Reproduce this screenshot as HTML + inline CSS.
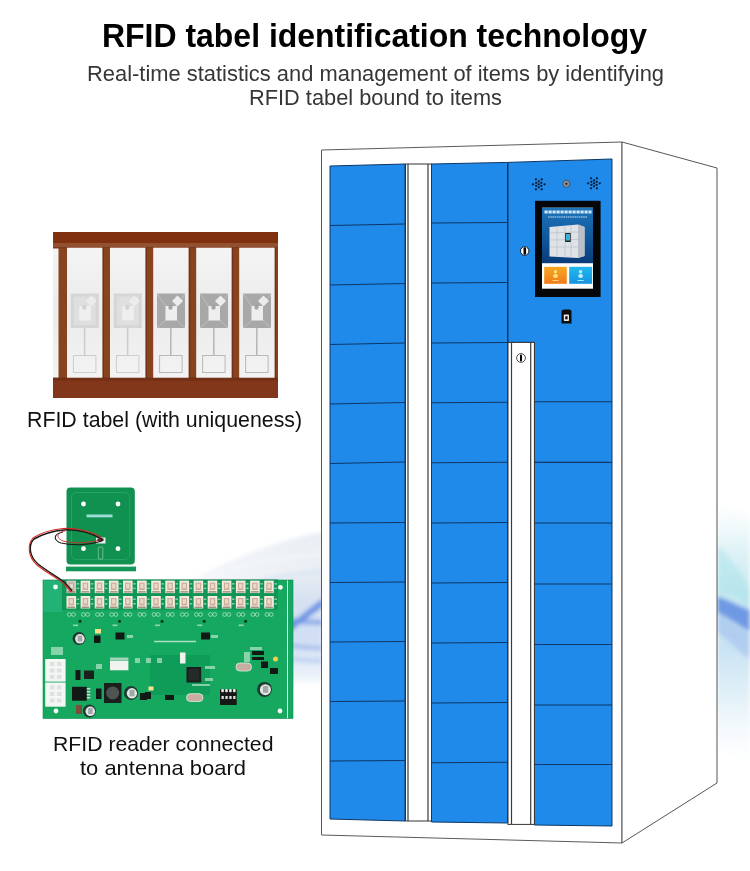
<!DOCTYPE html>
<html><head><meta charset="utf-8">
<style>
html,body{margin:0;padding:0;background:#fff;}
body{width:750px;height:871px;position:relative;overflow:hidden;font-family:"Liberation Sans",sans-serif;}
.t{position:absolute;white-space:nowrap;line-height:1;}
#title{left:101.7px;top:19px;font-size:33px;font-weight:bold;color:#000;transform:scaleX(0.9684);transform-origin:0 0;}
#sub1{left:87px;top:62.5px;font-size:22px;color:#363636;transform:scaleX(0.9955);transform-origin:0 0;}
#sub2{left:248.5px;top:86.5px;font-size:22px;color:#363636;transform:scaleX(0.9899);transform-origin:0 0;}
#cap1{left:26.5px;top:409.5px;font-size:21.5px;color:#111;transform:scaleX(0.9923);transform-origin:0 0;}
#cap2{left:52.8px;top:733px;font-size:21px;color:#111;transform:scaleX(1.01);transform-origin:0 0;}
#cap3{left:79.8px;top:756.5px;font-size:21px;color:#111;transform:scaleX(1.0455);transform-origin:0 0;}
svg{position:absolute;left:0;top:0;}
</style></head>
<body>
<svg width="750" height="871" viewBox="0 0 750 871">
<defs>
  <filter id="blur2" x="-20%" y="-20%" width="140%" height="140%"><feGaussianBlur stdDeviation="2.2"/></filter>
  <radialGradient id="waveR" cx="1" cy="0.5" r="1">
    <stop offset="0" stop-color="#6aa8ec" stop-opacity="0.55"/>
    <stop offset="1" stop-color="#ffffff" stop-opacity="0"/>
  </radialGradient>

  <linearGradient id="scr" x1="0" y1="0" x2="0" y2="1">
    <stop offset="0" stop-color="#1d74bb"/><stop offset="0.5" stop-color="#115a9e"/><stop offset="1" stop-color="#0a3b7a"/>
  </linearGradient>
  <linearGradient id="org" x1="0" y1="0" x2="0" y2="1">
    <stop offset="0" stop-color="#f7a823"/><stop offset="1" stop-color="#f07a1a"/>
  </linearGradient>
  <linearGradient id="cyn" x1="0" y1="0" x2="0" y2="1">
    <stop offset="0" stop-color="#22b8f0"/><stop offset="1" stop-color="#1594e0"/>
  </linearGradient>
  <linearGradient id="lab" x1="0" y1="0" x2="0" y2="1">
    <stop offset="0" stop-color="#f4f4f4"/><stop offset="0.5" stop-color="#ebebeb"/><stop offset="1" stop-color="#f3f3f3"/>
  </linearGradient>
  <linearGradient id="wl" x1="0" y1="0" x2="1" y2="0">
    <stop offset="0" stop-color="#ffffff"/><stop offset="0.5" stop-color="#e9eef5"/><stop offset="1" stop-color="#dfe6ef"/>
  </linearGradient>
  <linearGradient id="wl2" x1="0" y1="0" x2="0" y2="1">
    <stop offset="0" stop-color="#e6ecf3"/><stop offset="0.25" stop-color="#d5e1f2"/><stop offset="0.6" stop-color="#d1def4"/><stop offset="0.9" stop-color="#e8eff9"/><stop offset="1" stop-color="#f7f9fc"/>
  </linearGradient>
  <linearGradient id="wr" x1="0" y1="0" x2="0" y2="1">
    <stop offset="0" stop-color="#f4fafc" stop-opacity="0"/><stop offset="0.15" stop-color="#e6f5f8"/><stop offset="0.35" stop-color="#c6e9f0"/><stop offset="0.55" stop-color="#c9e2f3"/><stop offset="0.75" stop-color="#e3f1f8"/><stop offset="1" stop-color="#f4f8fc" stop-opacity="0"/>
  </linearGradient>
</defs>
<g id="bgwave" filter="url(#blur2)">
<path d="M120,630 C180,580 250,545 330,530 L330,600 C260,595 200,610 150,640 Z" fill="url(#wl)" opacity="0.65"/>
<path d="M185,588 C230,566 280,556 330,554" fill="none" stroke="#f4f7fb" stroke-width="3" opacity="0.8"/>
<path d="M205,600 C245,582 290,573 330,571" fill="none" stroke="#c9d8ee" stroke-width="4" opacity="0.55"/>
<rect x="290" y="575" width="33" height="108" fill="url(#wl2)"/>
<path d="M290,624 C300,616 312,606 323,598 L323,607 C312,614 300,624 290,632 Z" fill="#5d86df" opacity="0.85"/>
<path d="M290,618 C303,619 313,620 323,620 L323,625 C313,625 303,624 290,623 Z" fill="#6a92e2" opacity="0.7"/>
<path d="M290,644 C303,645 313,646 323,646 L323,650 C313,650 303,649 290,648 Z" fill="#7fa2e6" opacity="0.6"/>
<path d="M290,657 C303,658 313,659 323,659 L323,663 C313,663 303,662 290,661 Z" fill="#9fbbee" opacity="0.55"/>
</g>
<g id="rwave" filter="url(#blur2)">
<path d="M717,500 C730,505 742,510 750,515 L750,765 C740,760 728,755 717,750 Z" fill="url(#wr)"/>
<path d="M717,596 C728,600 740,606 750,610 L750,632 C740,626 728,618 717,612 Z" fill="#5a86e0" opacity="0.8"/>
<path d="M717,612 C728,620 740,628 750,634 L750,660 C740,652 728,640 717,632 Z" fill="#9dbbee" opacity="0.55"/>
<path d="M717,545 C730,555 742,575 750,590 L750,608 C740,598 730,590 717,594 Z" fill="#a5dfe8" opacity="0.45"/>
</g>
<g id="antenna"><rect x="66.5" y="487.6" width="68.3" height="77" rx="4" fill="#10914f"/><rect x="71.5" y="492.5" width="58.3" height="67" rx="5" fill="none" stroke="#2aa866" stroke-width="1" opacity="0.8"/><rect x="66" y="566.5" width="70" height="4.8" fill="#14985a"/><line x1="66" y1="565.6" x2="135" y2="565.6" stroke="#f2f7f3" stroke-width="1.2"/><circle cx="83.5" cy="504" r="2.4" fill="#fff"/><circle cx="118" cy="504" r="2.4" fill="#fff"/><circle cx="83.5" cy="548.7" r="2.4" fill="#fff"/><circle cx="118" cy="548.7" r="2.4" fill="#fff"/><rect x="86.5" y="514.5" width="26" height="2.8" fill="#aee6e8" opacity="0.9"/><rect x="96" y="537.5" width="9.5" height="6" fill="#e9ecef"/><rect x="97.5" y="538.5" width="6" height="2.5" fill="#222"/><rect x="98.3" y="547" width="4.5" height="12" rx="1" fill="none" stroke="#9fd8b6" stroke-width="0.8" opacity="0.8"/></g>
<g id="pcb"><rect x="43" y="580" width="244" height="138.5" fill="#15a85e"/><path d="M55,620 L287,620 L287,650 L230,650 L220,660 L55,660 Z" fill="#16a762" opacity="0.55"/><rect x="150" y="655" width="60" height="40" fill="#0c9456" opacity="0.6"/><rect x="43" y="580" width="19" height="32" fill="#2db98a" opacity="0.55"/><rect x="288" y="580" width="5" height="138.5" fill="#16a862"/><line x1="287.5" y1="580" x2="287.5" y2="718.5" stroke="#d9efe2" stroke-width="0.7"/><rect x="43" y="580" width="250" height="138.5" fill="none" stroke="#0b8a4e" stroke-width="0.6"/><circle cx="55.5" cy="587" r="2.4" fill="#f4f7f4"/><circle cx="280.4" cy="587.3" r="2.4" fill="#f4f7f4"/><circle cx="56" cy="711" r="2.4" fill="#f4f7f4"/><circle cx="280" cy="711" r="2.4" fill="#f4f7f4"/><rect x="62" y="579" width="216" height="31" fill="#0a7e4b" opacity="0.45"/><rect x="66.5" y="580.6" width="9.6" height="12.5" fill="#cfcac6"/><rect x="68.5" y="582.6" width="5.6" height="7.5" fill="#c6a487" opacity="0.85"/><rect x="69.7" y="583.8000000000001" width="3.2" height="4.5" fill="#ead9c8"/><rect x="67.5" y="591.1" width="7.6" height="1.5" fill="#6f5a4a" opacity="0.6"/><rect x="76.7" y="583.1" width="2.5" height="1.5" fill="#b8e6cc" opacity="0.7"/><rect x="76.7" y="587.6" width="2.5" height="1.5" fill="#b8e6cc" opacity="0.7"/><rect x="80.6" y="580.6" width="9.6" height="12.5" fill="#f3ebe3"/><rect x="82.6" y="582.6" width="5.6" height="7.5" fill="#c6a487" opacity="0.85"/><rect x="83.8" y="583.8000000000001" width="3.2" height="4.5" fill="#ead9c8"/><rect x="81.6" y="591.1" width="7.6" height="1.5" fill="#6f5a4a" opacity="0.6"/><rect x="90.8" y="583.1" width="2.5" height="1.5" fill="#b8e6cc" opacity="0.7"/><rect x="90.8" y="587.6" width="2.5" height="1.5" fill="#b8e6cc" opacity="0.7"/><rect x="94.7" y="580.6" width="9.6" height="12.5" fill="#f3ebe3"/><rect x="96.7" y="582.6" width="5.6" height="7.5" fill="#c6a487" opacity="0.85"/><rect x="97.9" y="583.8000000000001" width="3.2" height="4.5" fill="#ead9c8"/><rect x="95.7" y="591.1" width="7.6" height="1.5" fill="#6f5a4a" opacity="0.6"/><rect x="104.9" y="583.1" width="2.5" height="1.5" fill="#b8e6cc" opacity="0.7"/><rect x="104.9" y="587.6" width="2.5" height="1.5" fill="#b8e6cc" opacity="0.7"/><rect x="108.9" y="580.6" width="9.6" height="12.5" fill="#f3ebe3"/><rect x="110.9" y="582.6" width="5.6" height="7.5" fill="#c6a487" opacity="0.85"/><rect x="112.1" y="583.8000000000001" width="3.2" height="4.5" fill="#ead9c8"/><rect x="109.9" y="591.1" width="7.6" height="1.5" fill="#6f5a4a" opacity="0.6"/><rect x="119.1" y="583.1" width="2.5" height="1.5" fill="#b8e6cc" opacity="0.7"/><rect x="119.1" y="587.6" width="2.5" height="1.5" fill="#b8e6cc" opacity="0.7"/><rect x="123.0" y="580.6" width="9.6" height="12.5" fill="#f3ebe3"/><rect x="125.0" y="582.6" width="5.6" height="7.5" fill="#c6a487" opacity="0.85"/><rect x="126.2" y="583.8000000000001" width="3.2" height="4.5" fill="#ead9c8"/><rect x="124.0" y="591.1" width="7.6" height="1.5" fill="#6f5a4a" opacity="0.6"/><rect x="133.2" y="583.1" width="2.5" height="1.5" fill="#b8e6cc" opacity="0.7"/><rect x="133.2" y="587.6" width="2.5" height="1.5" fill="#b8e6cc" opacity="0.7"/><rect x="137.1" y="580.6" width="9.6" height="12.5" fill="#f3ebe3"/><rect x="139.1" y="582.6" width="5.6" height="7.5" fill="#c6a487" opacity="0.85"/><rect x="140.3" y="583.8000000000001" width="3.2" height="4.5" fill="#ead9c8"/><rect x="138.1" y="591.1" width="7.6" height="1.5" fill="#6f5a4a" opacity="0.6"/><rect x="147.3" y="583.1" width="2.5" height="1.5" fill="#b8e6cc" opacity="0.7"/><rect x="147.3" y="587.6" width="2.5" height="1.5" fill="#b8e6cc" opacity="0.7"/><rect x="151.2" y="580.6" width="9.6" height="12.5" fill="#f3ebe3"/><rect x="153.2" y="582.6" width="5.6" height="7.5" fill="#c6a487" opacity="0.85"/><rect x="154.4" y="583.8000000000001" width="3.2" height="4.5" fill="#ead9c8"/><rect x="152.2" y="591.1" width="7.6" height="1.5" fill="#6f5a4a" opacity="0.6"/><rect x="161.4" y="583.1" width="2.5" height="1.5" fill="#b8e6cc" opacity="0.7"/><rect x="161.4" y="587.6" width="2.5" height="1.5" fill="#b8e6cc" opacity="0.7"/><rect x="165.3" y="580.6" width="9.6" height="12.5" fill="#f3ebe3"/><rect x="167.3" y="582.6" width="5.6" height="7.5" fill="#c6a487" opacity="0.85"/><rect x="168.5" y="583.8000000000001" width="3.2" height="4.5" fill="#ead9c8"/><rect x="166.3" y="591.1" width="7.6" height="1.5" fill="#6f5a4a" opacity="0.6"/><rect x="175.5" y="583.1" width="2.5" height="1.5" fill="#b8e6cc" opacity="0.7"/><rect x="175.5" y="587.6" width="2.5" height="1.5" fill="#b8e6cc" opacity="0.7"/><rect x="179.5" y="580.6" width="9.6" height="12.5" fill="#f3ebe3"/><rect x="181.5" y="582.6" width="5.6" height="7.5" fill="#c6a487" opacity="0.85"/><rect x="182.7" y="583.8000000000001" width="3.2" height="4.5" fill="#ead9c8"/><rect x="180.5" y="591.1" width="7.6" height="1.5" fill="#6f5a4a" opacity="0.6"/><rect x="189.7" y="583.1" width="2.5" height="1.5" fill="#b8e6cc" opacity="0.7"/><rect x="189.7" y="587.6" width="2.5" height="1.5" fill="#b8e6cc" opacity="0.7"/><rect x="193.6" y="580.6" width="9.6" height="12.5" fill="#f3ebe3"/><rect x="195.6" y="582.6" width="5.6" height="7.5" fill="#c6a487" opacity="0.85"/><rect x="196.8" y="583.8000000000001" width="3.2" height="4.5" fill="#ead9c8"/><rect x="194.6" y="591.1" width="7.6" height="1.5" fill="#6f5a4a" opacity="0.6"/><rect x="203.8" y="583.1" width="2.5" height="1.5" fill="#b8e6cc" opacity="0.7"/><rect x="203.8" y="587.6" width="2.5" height="1.5" fill="#b8e6cc" opacity="0.7"/><rect x="207.7" y="580.6" width="9.6" height="12.5" fill="#f3ebe3"/><rect x="209.7" y="582.6" width="5.6" height="7.5" fill="#c6a487" opacity="0.85"/><rect x="210.9" y="583.8000000000001" width="3.2" height="4.5" fill="#ead9c8"/><rect x="208.7" y="591.1" width="7.6" height="1.5" fill="#6f5a4a" opacity="0.6"/><rect x="217.9" y="583.1" width="2.5" height="1.5" fill="#b8e6cc" opacity="0.7"/><rect x="217.9" y="587.6" width="2.5" height="1.5" fill="#b8e6cc" opacity="0.7"/><rect x="221.8" y="580.6" width="9.6" height="12.5" fill="#f3ebe3"/><rect x="223.8" y="582.6" width="5.6" height="7.5" fill="#c6a487" opacity="0.85"/><rect x="225.0" y="583.8000000000001" width="3.2" height="4.5" fill="#ead9c8"/><rect x="222.8" y="591.1" width="7.6" height="1.5" fill="#6f5a4a" opacity="0.6"/><rect x="232.0" y="583.1" width="2.5" height="1.5" fill="#b8e6cc" opacity="0.7"/><rect x="232.0" y="587.6" width="2.5" height="1.5" fill="#b8e6cc" opacity="0.7"/><rect x="235.9" y="580.6" width="9.6" height="12.5" fill="#f3ebe3"/><rect x="237.9" y="582.6" width="5.6" height="7.5" fill="#c6a487" opacity="0.85"/><rect x="239.1" y="583.8000000000001" width="3.2" height="4.5" fill="#ead9c8"/><rect x="236.9" y="591.1" width="7.6" height="1.5" fill="#6f5a4a" opacity="0.6"/><rect x="246.1" y="583.1" width="2.5" height="1.5" fill="#b8e6cc" opacity="0.7"/><rect x="246.1" y="587.6" width="2.5" height="1.5" fill="#b8e6cc" opacity="0.7"/><rect x="250.1" y="580.6" width="9.6" height="12.5" fill="#f3ebe3"/><rect x="252.1" y="582.6" width="5.6" height="7.5" fill="#c6a487" opacity="0.85"/><rect x="253.3" y="583.8000000000001" width="3.2" height="4.5" fill="#ead9c8"/><rect x="251.1" y="591.1" width="7.6" height="1.5" fill="#6f5a4a" opacity="0.6"/><rect x="260.3" y="583.1" width="2.5" height="1.5" fill="#b8e6cc" opacity="0.7"/><rect x="260.3" y="587.6" width="2.5" height="1.5" fill="#b8e6cc" opacity="0.7"/><rect x="264.2" y="580.6" width="9.6" height="12.5" fill="#f3ebe3"/><rect x="266.2" y="582.6" width="5.6" height="7.5" fill="#c6a487" opacity="0.85"/><rect x="267.4" y="583.8000000000001" width="3.2" height="4.5" fill="#ead9c8"/><rect x="265.2" y="591.1" width="7.6" height="1.5" fill="#6f5a4a" opacity="0.6"/><rect x="274.4" y="583.1" width="2.5" height="1.5" fill="#b8e6cc" opacity="0.7"/><rect x="274.4" y="587.6" width="2.5" height="1.5" fill="#b8e6cc" opacity="0.7"/><rect x="66.5" y="596" width="9.6" height="12.5" fill="#f3ebe3"/><rect x="68.5" y="598" width="5.6" height="7.5" fill="#c6a487" opacity="0.85"/><rect x="69.7" y="599.2" width="3.2" height="4.5" fill="#ead9c8"/><rect x="67.5" y="606.5" width="7.6" height="1.5" fill="#6f5a4a" opacity="0.6"/><rect x="76.7" y="598.5" width="2.5" height="1.5" fill="#b8e6cc" opacity="0.7"/><rect x="76.7" y="603" width="2.5" height="1.5" fill="#b8e6cc" opacity="0.7"/><rect x="80.6" y="596" width="9.6" height="12.5" fill="#f3ebe3"/><rect x="82.6" y="598" width="5.6" height="7.5" fill="#c6a487" opacity="0.85"/><rect x="83.8" y="599.2" width="3.2" height="4.5" fill="#ead9c8"/><rect x="81.6" y="606.5" width="7.6" height="1.5" fill="#6f5a4a" opacity="0.6"/><rect x="90.8" y="598.5" width="2.5" height="1.5" fill="#b8e6cc" opacity="0.7"/><rect x="90.8" y="603" width="2.5" height="1.5" fill="#b8e6cc" opacity="0.7"/><rect x="94.7" y="596" width="9.6" height="12.5" fill="#f3ebe3"/><rect x="96.7" y="598" width="5.6" height="7.5" fill="#c6a487" opacity="0.85"/><rect x="97.9" y="599.2" width="3.2" height="4.5" fill="#ead9c8"/><rect x="95.7" y="606.5" width="7.6" height="1.5" fill="#6f5a4a" opacity="0.6"/><rect x="104.9" y="598.5" width="2.5" height="1.5" fill="#b8e6cc" opacity="0.7"/><rect x="104.9" y="603" width="2.5" height="1.5" fill="#b8e6cc" opacity="0.7"/><rect x="108.9" y="596" width="9.6" height="12.5" fill="#f3ebe3"/><rect x="110.9" y="598" width="5.6" height="7.5" fill="#c6a487" opacity="0.85"/><rect x="112.1" y="599.2" width="3.2" height="4.5" fill="#ead9c8"/><rect x="109.9" y="606.5" width="7.6" height="1.5" fill="#6f5a4a" opacity="0.6"/><rect x="119.1" y="598.5" width="2.5" height="1.5" fill="#b8e6cc" opacity="0.7"/><rect x="119.1" y="603" width="2.5" height="1.5" fill="#b8e6cc" opacity="0.7"/><rect x="123.0" y="596" width="9.6" height="12.5" fill="#f3ebe3"/><rect x="125.0" y="598" width="5.6" height="7.5" fill="#c6a487" opacity="0.85"/><rect x="126.2" y="599.2" width="3.2" height="4.5" fill="#ead9c8"/><rect x="124.0" y="606.5" width="7.6" height="1.5" fill="#6f5a4a" opacity="0.6"/><rect x="133.2" y="598.5" width="2.5" height="1.5" fill="#b8e6cc" opacity="0.7"/><rect x="133.2" y="603" width="2.5" height="1.5" fill="#b8e6cc" opacity="0.7"/><rect x="137.1" y="596" width="9.6" height="12.5" fill="#f3ebe3"/><rect x="139.1" y="598" width="5.6" height="7.5" fill="#c6a487" opacity="0.85"/><rect x="140.3" y="599.2" width="3.2" height="4.5" fill="#ead9c8"/><rect x="138.1" y="606.5" width="7.6" height="1.5" fill="#6f5a4a" opacity="0.6"/><rect x="147.3" y="598.5" width="2.5" height="1.5" fill="#b8e6cc" opacity="0.7"/><rect x="147.3" y="603" width="2.5" height="1.5" fill="#b8e6cc" opacity="0.7"/><rect x="151.2" y="596" width="9.6" height="12.5" fill="#f3ebe3"/><rect x="153.2" y="598" width="5.6" height="7.5" fill="#c6a487" opacity="0.85"/><rect x="154.4" y="599.2" width="3.2" height="4.5" fill="#ead9c8"/><rect x="152.2" y="606.5" width="7.6" height="1.5" fill="#6f5a4a" opacity="0.6"/><rect x="161.4" y="598.5" width="2.5" height="1.5" fill="#b8e6cc" opacity="0.7"/><rect x="161.4" y="603" width="2.5" height="1.5" fill="#b8e6cc" opacity="0.7"/><rect x="165.3" y="596" width="9.6" height="12.5" fill="#f3ebe3"/><rect x="167.3" y="598" width="5.6" height="7.5" fill="#c6a487" opacity="0.85"/><rect x="168.5" y="599.2" width="3.2" height="4.5" fill="#ead9c8"/><rect x="166.3" y="606.5" width="7.6" height="1.5" fill="#6f5a4a" opacity="0.6"/><rect x="175.5" y="598.5" width="2.5" height="1.5" fill="#b8e6cc" opacity="0.7"/><rect x="175.5" y="603" width="2.5" height="1.5" fill="#b8e6cc" opacity="0.7"/><rect x="179.5" y="596" width="9.6" height="12.5" fill="#f3ebe3"/><rect x="181.5" y="598" width="5.6" height="7.5" fill="#c6a487" opacity="0.85"/><rect x="182.7" y="599.2" width="3.2" height="4.5" fill="#ead9c8"/><rect x="180.5" y="606.5" width="7.6" height="1.5" fill="#6f5a4a" opacity="0.6"/><rect x="189.7" y="598.5" width="2.5" height="1.5" fill="#b8e6cc" opacity="0.7"/><rect x="189.7" y="603" width="2.5" height="1.5" fill="#b8e6cc" opacity="0.7"/><rect x="193.6" y="596" width="9.6" height="12.5" fill="#f3ebe3"/><rect x="195.6" y="598" width="5.6" height="7.5" fill="#c6a487" opacity="0.85"/><rect x="196.8" y="599.2" width="3.2" height="4.5" fill="#ead9c8"/><rect x="194.6" y="606.5" width="7.6" height="1.5" fill="#6f5a4a" opacity="0.6"/><rect x="203.8" y="598.5" width="2.5" height="1.5" fill="#b8e6cc" opacity="0.7"/><rect x="203.8" y="603" width="2.5" height="1.5" fill="#b8e6cc" opacity="0.7"/><rect x="207.7" y="596" width="9.6" height="12.5" fill="#f3ebe3"/><rect x="209.7" y="598" width="5.6" height="7.5" fill="#c6a487" opacity="0.85"/><rect x="210.9" y="599.2" width="3.2" height="4.5" fill="#ead9c8"/><rect x="208.7" y="606.5" width="7.6" height="1.5" fill="#6f5a4a" opacity="0.6"/><rect x="217.9" y="598.5" width="2.5" height="1.5" fill="#b8e6cc" opacity="0.7"/><rect x="217.9" y="603" width="2.5" height="1.5" fill="#b8e6cc" opacity="0.7"/><rect x="221.8" y="596" width="9.6" height="12.5" fill="#f3ebe3"/><rect x="223.8" y="598" width="5.6" height="7.5" fill="#c6a487" opacity="0.85"/><rect x="225.0" y="599.2" width="3.2" height="4.5" fill="#ead9c8"/><rect x="222.8" y="606.5" width="7.6" height="1.5" fill="#6f5a4a" opacity="0.6"/><rect x="232.0" y="598.5" width="2.5" height="1.5" fill="#b8e6cc" opacity="0.7"/><rect x="232.0" y="603" width="2.5" height="1.5" fill="#b8e6cc" opacity="0.7"/><rect x="235.9" y="596" width="9.6" height="12.5" fill="#f3ebe3"/><rect x="237.9" y="598" width="5.6" height="7.5" fill="#c6a487" opacity="0.85"/><rect x="239.1" y="599.2" width="3.2" height="4.5" fill="#ead9c8"/><rect x="236.9" y="606.5" width="7.6" height="1.5" fill="#6f5a4a" opacity="0.6"/><rect x="246.1" y="598.5" width="2.5" height="1.5" fill="#b8e6cc" opacity="0.7"/><rect x="246.1" y="603" width="2.5" height="1.5" fill="#b8e6cc" opacity="0.7"/><rect x="250.1" y="596" width="9.6" height="12.5" fill="#f3ebe3"/><rect x="252.1" y="598" width="5.6" height="7.5" fill="#c6a487" opacity="0.85"/><rect x="253.3" y="599.2" width="3.2" height="4.5" fill="#ead9c8"/><rect x="251.1" y="606.5" width="7.6" height="1.5" fill="#6f5a4a" opacity="0.6"/><rect x="260.3" y="598.5" width="2.5" height="1.5" fill="#b8e6cc" opacity="0.7"/><rect x="260.3" y="603" width="2.5" height="1.5" fill="#b8e6cc" opacity="0.7"/><rect x="264.2" y="596" width="9.6" height="12.5" fill="#f3ebe3"/><rect x="266.2" y="598" width="5.6" height="7.5" fill="#c6a487" opacity="0.85"/><rect x="267.4" y="599.2" width="3.2" height="4.5" fill="#ead9c8"/><rect x="265.2" y="606.5" width="7.6" height="1.5" fill="#6f5a4a" opacity="0.6"/><rect x="274.4" y="598.5" width="2.5" height="1.5" fill="#b8e6cc" opacity="0.7"/><rect x="274.4" y="603" width="2.5" height="1.5" fill="#b8e6cc" opacity="0.7"/><circle cx="69.3" cy="614.5" r="1.9" fill="none" stroke="#c4ead4" stroke-width="0.7"/><circle cx="73.5" cy="614.5" r="1.9" fill="none" stroke="#c4ead4" stroke-width="0.7"/><circle cx="83.4" cy="614.5" r="1.9" fill="none" stroke="#c4ead4" stroke-width="0.7"/><circle cx="87.6" cy="614.5" r="1.9" fill="none" stroke="#c4ead4" stroke-width="0.7"/><circle cx="97.5" cy="614.5" r="1.9" fill="none" stroke="#c4ead4" stroke-width="0.7"/><circle cx="101.7" cy="614.5" r="1.9" fill="none" stroke="#c4ead4" stroke-width="0.7"/><circle cx="111.7" cy="614.5" r="1.9" fill="none" stroke="#c4ead4" stroke-width="0.7"/><circle cx="115.9" cy="614.5" r="1.9" fill="none" stroke="#c4ead4" stroke-width="0.7"/><circle cx="125.8" cy="614.5" r="1.9" fill="none" stroke="#c4ead4" stroke-width="0.7"/><circle cx="130.0" cy="614.5" r="1.9" fill="none" stroke="#c4ead4" stroke-width="0.7"/><circle cx="139.9" cy="614.5" r="1.9" fill="none" stroke="#c4ead4" stroke-width="0.7"/><circle cx="144.1" cy="614.5" r="1.9" fill="none" stroke="#c4ead4" stroke-width="0.7"/><circle cx="154.0" cy="614.5" r="1.9" fill="none" stroke="#c4ead4" stroke-width="0.7"/><circle cx="158.2" cy="614.5" r="1.9" fill="none" stroke="#c4ead4" stroke-width="0.7"/><circle cx="168.1" cy="614.5" r="1.9" fill="none" stroke="#c4ead4" stroke-width="0.7"/><circle cx="172.3" cy="614.5" r="1.9" fill="none" stroke="#c4ead4" stroke-width="0.7"/><circle cx="182.3" cy="614.5" r="1.9" fill="none" stroke="#c4ead4" stroke-width="0.7"/><circle cx="186.5" cy="614.5" r="1.9" fill="none" stroke="#c4ead4" stroke-width="0.7"/><circle cx="196.4" cy="614.5" r="1.9" fill="none" stroke="#c4ead4" stroke-width="0.7"/><circle cx="200.6" cy="614.5" r="1.9" fill="none" stroke="#c4ead4" stroke-width="0.7"/><circle cx="210.5" cy="614.5" r="1.9" fill="none" stroke="#c4ead4" stroke-width="0.7"/><circle cx="214.7" cy="614.5" r="1.9" fill="none" stroke="#c4ead4" stroke-width="0.7"/><circle cx="224.6" cy="614.5" r="1.9" fill="none" stroke="#c4ead4" stroke-width="0.7"/><circle cx="228.8" cy="614.5" r="1.9" fill="none" stroke="#c4ead4" stroke-width="0.7"/><circle cx="238.7" cy="614.5" r="1.9" fill="none" stroke="#c4ead4" stroke-width="0.7"/><circle cx="242.9" cy="614.5" r="1.9" fill="none" stroke="#c4ead4" stroke-width="0.7"/><circle cx="252.9" cy="614.5" r="1.9" fill="none" stroke="#c4ead4" stroke-width="0.7"/><circle cx="257.1" cy="614.5" r="1.9" fill="none" stroke="#c4ead4" stroke-width="0.7"/><circle cx="267.0" cy="614.5" r="1.9" fill="none" stroke="#c4ead4" stroke-width="0.7"/><circle cx="271.2" cy="614.5" r="1.9" fill="none" stroke="#c4ead4" stroke-width="0.7"/><circle cx="80" cy="621.2" r="1.5" fill="#07331b"/><rect x="73" y="624.5" width="5" height="1.6" fill="#c4ead4" opacity="0.7"/><circle cx="119.5" cy="621.2" r="1.5" fill="#07331b"/><rect x="112.5" y="624.5" width="5" height="1.6" fill="#c4ead4" opacity="0.7"/><circle cx="162" cy="621.2" r="1.5" fill="#07331b"/><rect x="155" y="624.5" width="5" height="1.6" fill="#c4ead4" opacity="0.7"/><circle cx="204.2" cy="621.2" r="1.5" fill="#07331b"/><rect x="197.2" y="624.5" width="5" height="1.6" fill="#c4ead4" opacity="0.7"/><circle cx="245.6" cy="621.2" r="1.5" fill="#07331b"/><rect x="238.6" y="624.5" width="5" height="1.6" fill="#c4ead4" opacity="0.7"/><circle cx="79" cy="638.5" r="6.5" fill="#1d3a30"/><circle cx="79.9" cy="638.8" r="4.81" fill="#dfe6e4"/><rect x="77.7" y="635.6" width="4.5" height="5.9" fill="#6a7570" opacity="0.55"/><circle cx="131" cy="693" r="7" fill="#1d3a30"/><circle cx="131.9" cy="693.3" r="5.18" fill="#dfe6e4"/><rect x="129.6" y="689.9" width="4.9" height="6.3" fill="#6a7570" opacity="0.55"/><circle cx="89.4" cy="711" r="6.5" fill="#1d3a30"/><circle cx="90.30000000000001" cy="711.3" r="4.81" fill="#dfe6e4"/><rect x="88.1" y="708.1" width="4.5" height="5.9" fill="#6a7570" opacity="0.55"/><circle cx="264.5" cy="689.4" r="7.5" fill="#1d3a30"/><circle cx="265.4" cy="689.6999999999999" r="5.55" fill="#dfe6e4"/><rect x="263.0" y="686.0" width="5.2" height="6.8" fill="#6a7570" opacity="0.55"/><rect x="115.5" y="632.5" width="9" height="7" fill="#121816"/><rect x="201" y="632.5" width="9" height="7" fill="#121816"/><rect x="261" y="661.5" width="7" height="6.5" fill="#121816"/><rect x="72" y="686.8" width="14.8" height="13.9" fill="#121816"/><rect x="75.5" y="670" width="5" height="10" fill="#121816"/><rect x="84" y="670.5" width="10" height="8.5" fill="#1a201d"/><rect x="96" y="688.5" width="5.5" height="10.5" fill="#121816"/><g fill="#cfd7d3"><rect x="86.8" y="688" width="3.5" height="1.5"/><rect x="86.8" y="691" width="3.5" height="1.5"/><rect x="86.8" y="694" width="3.5" height="1.5"/><rect x="86.8" y="697" width="3.5" height="1.5"/></g><rect x="104" y="683" width="17.5" height="20" fill="#1b1f1d"/><circle cx="112.7" cy="693" r="6.5" fill="#4d5452"/><rect x="186.5" y="667" width="14.7" height="15.5" fill="#1a1e1c"/><rect x="188.5" y="669" width="10.7" height="11.5" fill="#262b29"/><rect x="236" y="663" width="15.5" height="8" rx="3.8" fill="#c9ada0" stroke="#d9eee2" stroke-width="0.8"/><rect x="186.5" y="693.7" width="16.5" height="7.8" rx="3.8" fill="#c9ada0" stroke="#d9eee2" stroke-width="0.8"/><rect x="220" y="689.5" width="16.7" height="15.5" fill="#151816"/><rect x="221.3" y="689" width="2.6" height="3.2" rx="1" fill="#eee"/><rect x="221.5" y="696" width="2.3" height="3" fill="#ddd"/><rect x="225.2" y="689" width="2.6" height="3.2" rx="1" fill="#eee"/><rect x="225.4" y="696" width="2.3" height="3" fill="#ddd"/><rect x="229.1" y="689" width="2.6" height="3.2" rx="1" fill="#eee"/><rect x="229.3" y="696" width="2.3" height="3" fill="#ddd"/><rect x="233.0" y="689" width="2.6" height="3.2" rx="1" fill="#eee"/><rect x="233.2" y="696" width="2.3" height="3" fill="#ddd"/><rect x="45.2" y="659" width="20.4" height="22.6" fill="#f3f6f4"/><rect x="45.2" y="682.5" width="20.4" height="24.2" fill="#f3f6f4"/><rect x="50" y="662.0" width="4.5" height="4" fill="#dde2df"/><rect x="57" y="662.0" width="4.5" height="4" fill="#dde2df"/><rect x="50" y="668.5" width="4.5" height="4" fill="#dde2df"/><rect x="57" y="668.5" width="4.5" height="4" fill="#dde2df"/><rect x="50" y="675.0" width="4.5" height="4" fill="#dde2df"/><rect x="57" y="675.0" width="4.5" height="4" fill="#dde2df"/><rect x="50" y="685.5" width="4.5" height="4" fill="#dde2df"/><rect x="57" y="685.5" width="4.5" height="4" fill="#dde2df"/><rect x="50" y="692.0" width="4.5" height="4" fill="#dde2df"/><rect x="57" y="692.0" width="4.5" height="4" fill="#dde2df"/><rect x="50" y="698.5" width="4.5" height="4" fill="#dde2df"/><rect x="57" y="698.5" width="4.5" height="4" fill="#dde2df"/><rect x="110" y="660.8" width="18.4" height="9.5" fill="#f1f3f1"/><rect x="110" y="657.5" width="18.4" height="3" fill="#e0e6e2" opacity="0.7"/><rect x="180" y="652.5" width="5.5" height="11" fill="#f1f1ee"/><rect x="95" y="629" width="6" height="4.5" fill="#f4e08a"/><rect x="94" y="635.5" width="6.5" height="7.5" fill="#121816"/><circle cx="275.5" cy="659" r="2.5" fill="#f3cf4a"/><rect x="148.5" y="686.5" width="5" height="4" fill="#f6e38a"/><rect x="145" y="692" width="6" height="7" fill="#121816"/><path d="M154,641.5 L196,641.5" stroke="#c4ead4" stroke-width="1.3" opacity="0.85"/><g fill="#c4ead4" opacity="0.65"><rect x="127" y="635" width="6" height="3"/><rect x="211" y="635" width="7" height="3"/><rect x="135" y="658" width="5" height="5"/><rect x="146" y="658" width="5" height="5"/><rect x="157" y="658" width="5" height="5"/><rect x="96" y="664" width="6" height="5"/><rect x="250" y="647" width="12" height="3"/><rect x="244" y="652" width="6" height="10"/><rect x="205" y="666" width="10" height="3"/><rect x="205" y="678" width="8" height="3"/><rect x="192" y="684" width="18" height="2"/><rect x="51" y="647" width="12" height="8"/></g><rect x="252" y="651" width="12" height="4" fill="#121816"/><rect x="252" y="657" width="12" height="3" fill="#121816"/><rect x="140" y="693" width="7" height="7" fill="#121816"/><rect x="165" y="695" width="9" height="5" fill="#121816"/><rect x="76" y="705" width="6" height="9" fill="#7a4e3a"/><rect x="270" y="668" width="8" height="6" fill="#121816"/></g>
<g id="wires"><path d="M102,539 C92,533 77,529 64,530 C52,531 41,535 34,539 C28,545 29,556 38,564 C48,572 58,577 64,582 C67,585 70,588 72,591" fill="none" stroke="#1a1a1a" stroke-width="1.5"/>
<path d="M101,537.2 C91,531.5 76,527.5 63,528.5 C51,529.5 40,533.5 33,538 C27,545 28,557 37,565 C47,573 57,578 63,583 C66,586 69,589 71,592" fill="none" stroke="#d42a22" stroke-width="1.1"/>
<path d="M102,541 C90,545 73,546 61,543 C53,540 53,534 63,532" fill="none" stroke="#1a1a1a" stroke-width="1.1"/>
<path d="M101,539.6 C90,543 74,544 63,541 C56,538 56,533 65,531" fill="none" stroke="#d42a22" stroke-width="0.9"/></g>
<g id="photo"><rect x="53" y="232" width="225" height="166" fill="#88431f"/><rect x="53" y="232" width="225" height="11" fill="#7f300f"/><rect x="53" y="243" width="225" height="4.5" fill="#93502e"/><rect x="53" y="247" width="225" height="1.2" fill="#6a2a10" opacity="0.5"/><rect x="53" y="380" width="225" height="18" fill="#82361a"/><rect x="53" y="377.5" width="225" height="3" fill="#6a2a12" opacity="0.7"/><rect x="53" y="248.5" width="5.5" height="129" fill="url(#lab)"/><rect x="102.4" y="248" width="1.6" height="130" fill="#5e2410" opacity="0.55"/><rect x="67" y="247.7" width="35.4" height="130" fill="url(#lab)"/><rect x="70.8" y="293.5" width="28" height="34.5" fill="#d6d6d6"/><path d="M70.8,293.5 L79.3,306 M98.8,293.5 L90.8,306 M70.8,328 L79.3,320.5 M98.8,328 L90.8,320.5" stroke="#d2d2d2" stroke-width="0.7" opacity="0.8"/><rect x="73.8" y="296.5" width="22" height="28.5" fill="#e2e2e2" opacity="0.7"/><rect x="79.3" y="306" width="11.5" height="14.5" fill="#efefef"/><polygon points="91.3,295.5 96.8,301 91.3,306.5 85.8,301" fill="#ececec"/><circle cx="84.3" cy="307.5" r="2.2" fill="#8f8f8f" opacity="0.3"/><rect x="83.8" y="328" width="1.6" height="27.5" fill="#cdcdcd"/><rect x="73.4" y="355.5" width="22.5" height="17" fill="none" stroke="#cdcdcd" stroke-width="1"/><rect x="145.4" y="248" width="1.6" height="130" fill="#5e2410" opacity="0.55"/><rect x="110" y="247.7" width="35.4" height="130" fill="url(#lab)"/><rect x="113.8" y="293.5" width="28" height="34.5" fill="#d6d6d6"/><path d="M113.8,293.5 L122.3,306 M141.8,293.5 L133.8,306 M113.8,328 L122.3,320.5 M141.8,328 L133.8,320.5" stroke="#d2d2d2" stroke-width="0.7" opacity="0.8"/><rect x="116.8" y="296.5" width="22" height="28.5" fill="#e2e2e2" opacity="0.7"/><rect x="122.3" y="306" width="11.5" height="14.5" fill="#efefef"/><polygon points="134.3,295.5 139.8,301 134.3,306.5 128.8,301" fill="#ececec"/><circle cx="127.3" cy="307.5" r="2.2" fill="#8f8f8f" opacity="0.3"/><rect x="126.8" y="328" width="1.6" height="27.5" fill="#cdcdcd"/><rect x="116.4" y="355.5" width="22.5" height="17" fill="none" stroke="#cdcdcd" stroke-width="1"/><rect x="188.6" y="248" width="1.6" height="130" fill="#5e2410" opacity="0.55"/><rect x="153.2" y="247.7" width="35.4" height="130" fill="url(#lab)"/><rect x="157.0" y="293.5" width="28" height="34.5" fill="#a8a8a8"/><path d="M157.0,293.5 L165.5,306 M185.0,293.5 L177.0,306 M157.0,328 L165.5,320.5 M185.0,328 L177.0,320.5" stroke="#d2d2d2" stroke-width="0.7" opacity="0.8"/><rect x="165.5" y="306" width="11.5" height="14.5" fill="#eeeeee"/><polygon points="177.5,295.5 183.0,301 177.5,306.5 172.0,301" fill="#ececec"/><circle cx="170.5" cy="307.5" r="2.2" fill="#8f8f8f" opacity="0.75"/><rect x="170.0" y="328" width="1.6" height="27.5" fill="#b8b8b8"/><rect x="159.6" y="355.5" width="22.5" height="17" fill="none" stroke="#b8b8b8" stroke-width="1"/><rect x="231.6" y="248" width="1.6" height="130" fill="#5e2410" opacity="0.55"/><rect x="196.2" y="247.7" width="35.4" height="130" fill="url(#lab)"/><rect x="200.0" y="293.5" width="28" height="34.5" fill="#a8a8a8"/><path d="M200.0,293.5 L208.5,306 M228.0,293.5 L220.0,306 M200.0,328 L208.5,320.5 M228.0,328 L220.0,320.5" stroke="#d2d2d2" stroke-width="0.7" opacity="0.8"/><rect x="208.5" y="306" width="11.5" height="14.5" fill="#eeeeee"/><polygon points="220.5,295.5 226.0,301 220.5,306.5 215.0,301" fill="#ececec"/><circle cx="213.5" cy="307.5" r="2.2" fill="#8f8f8f" opacity="0.75"/><rect x="213.0" y="328" width="1.6" height="27.5" fill="#b8b8b8"/><rect x="202.6" y="355.5" width="22.5" height="17" fill="none" stroke="#b8b8b8" stroke-width="1"/><rect x="274.6" y="248" width="1.6" height="130" fill="#5e2410" opacity="0.55"/><rect x="239.2" y="247.7" width="35.4" height="130" fill="url(#lab)"/><rect x="243.0" y="293.5" width="28" height="34.5" fill="#a8a8a8"/><path d="M243.0,293.5 L251.5,306 M271.0,293.5 L263.0,306 M243.0,328 L251.5,320.5 M271.0,328 L263.0,320.5" stroke="#d2d2d2" stroke-width="0.7" opacity="0.8"/><rect x="251.5" y="306" width="11.5" height="14.5" fill="#eeeeee"/><polygon points="263.5,295.5 269.0,301 263.5,306.5 258.0,301" fill="#ececec"/><circle cx="256.5" cy="307.5" r="2.2" fill="#8f8f8f" opacity="0.75"/><rect x="256.0" y="328" width="1.6" height="27.5" fill="#b8b8b8"/><rect x="245.6" y="355.5" width="22.5" height="17" fill="none" stroke="#b8b8b8" stroke-width="1"/></g>
<!-- locker body -->
<polygon points="321.5,150 622,142 622,843 321.5,835" fill="#fff" stroke="#5a5a5a" stroke-width="1"/>
<polygon points="622,142 717,168 717,783 622,843" fill="#fff" stroke="#555" stroke-width="1"/>
<!-- column 1 -->
<polygon points="330,166 405,164 405,821 330,819" fill="#1f8aea" stroke="#0e3766" stroke-width="1"/>
<!-- column 2 -->
<polygon points="431.5,164 507.5,162.4 507.5,823 431.5,822" fill="#1f8aea" stroke="#0e3766" stroke-width="1"/>
<!-- panel + col3 -->
<polygon points="508,162.4 612,159 612,826 534.4,825 534.4,342.4 508,342.4" fill="#1f8aea" stroke="#0e3766" stroke-width="1"/>
<!-- strips -->
<g fill="#fff" stroke="#333" stroke-width="1">
<rect x="405.5" y="164" width="26" height="657"/>
<rect x="508" y="342.4" width="26.4" height="482"/>
</g>
<g stroke="#3a3a3a" stroke-width="1.2">
<line x1="408" y1="164" x2="408" y2="821"/>
<line x1="428" y1="164" x2="428" y2="821"/>
<line x1="511.5" y1="342.4" x2="511.5" y2="824"/>
<line x1="530.7" y1="342.4" x2="530.7" y2="824"/>
</g>
<g id="rows" stroke="#0e3766" stroke-width="1.1">
<line x1="330" y1="225.5" x2="405" y2="224.0"/>
<line x1="330" y1="285" x2="405" y2="283.5"/>
<line x1="330" y1="344.5" x2="405" y2="343.0"/>
<line x1="330" y1="404" x2="405" y2="402.5"/>
<line x1="330" y1="463.5" x2="405" y2="462.0"/>
<line x1="330" y1="523" x2="405" y2="522.5"/>
<line x1="330" y1="582.5" x2="405" y2="582.0"/>
<line x1="330" y1="642" x2="405" y2="641.5"/>
<line x1="330" y1="701.5" x2="405" y2="701.0"/>
<line x1="330" y1="761" x2="405" y2="760.5"/>
<line x1="431.5" y1="223" x2="507.5" y2="222.5"/>
<line x1="431.5" y1="283" x2="507.5" y2="282.5"/>
<line x1="431.5" y1="343" x2="507.5" y2="342.5"/>
<line x1="431.5" y1="402.7" x2="507.5" y2="402.2"/>
<line x1="431.5" y1="462.7" x2="507.5" y2="462.2"/>
<line x1="431.5" y1="523" x2="507.5" y2="522.5"/>
<line x1="431.5" y1="583" x2="507.5" y2="582.5"/>
<line x1="431.5" y1="643" x2="507.5" y2="642.5"/>
<line x1="431.5" y1="703" x2="507.5" y2="702.5"/>
<line x1="431.5" y1="762.7" x2="507.5" y2="762.2"/>
<line x1="534.4" y1="401.8" x2="612" y2="401.8"/>
<line x1="534.4" y1="462.4" x2="612" y2="462.4"/>
<line x1="534.4" y1="523" x2="612" y2="523"/>
<line x1="534.4" y1="584" x2="612" y2="584"/>
<line x1="534.4" y1="644.5" x2="612" y2="644.5"/>
<line x1="534.4" y1="705" x2="612" y2="705"/>
<line x1="534.4" y1="764.5" x2="612" y2="764.5"/>
</g>
<g id="panel">
<g fill="#0b1a33"><circle cx="538.80" cy="184.30" r="1.15"/><circle cx="541.40" cy="185.80" r="1.15"/><circle cx="538.80" cy="187.30" r="1.15"/><circle cx="536.20" cy="185.80" r="1.15"/><circle cx="536.20" cy="182.80" r="1.15"/><circle cx="538.80" cy="181.30" r="1.15"/><circle cx="541.40" cy="182.80" r="1.15"/><circle cx="544.60" cy="184.30" r="1.15"/><circle cx="541.70" cy="189.32" r="1.15"/><circle cx="535.90" cy="189.32" r="1.15"/><circle cx="533.00" cy="184.30" r="1.15"/><circle cx="535.90" cy="179.28" r="1.15"/><circle cx="541.70" cy="179.28" r="1.15"/><circle cx="594.00" cy="183.30" r="1.15"/><circle cx="596.60" cy="184.80" r="1.15"/><circle cx="594.00" cy="186.30" r="1.15"/><circle cx="591.40" cy="184.80" r="1.15"/><circle cx="591.40" cy="181.80" r="1.15"/><circle cx="594.00" cy="180.30" r="1.15"/><circle cx="596.60" cy="181.80" r="1.15"/><circle cx="599.80" cy="183.30" r="1.15"/><circle cx="596.90" cy="188.32" r="1.15"/><circle cx="591.10" cy="188.32" r="1.15"/><circle cx="588.20" cy="183.30" r="1.15"/><circle cx="591.10" cy="178.28" r="1.15"/><circle cx="596.90" cy="178.28" r="1.15"/></g>
<circle cx="566.4" cy="183.8" r="3.6" fill="#8a8f96" stroke="#3a4a5c" stroke-width="0.8"/>
<circle cx="566.4" cy="183.8" r="1" fill="#111"/>
<rect x="535" y="200.8" width="65.6" height="96.2" fill="#050608"/>
<rect x="542" y="207.7" width="51" height="81" fill="#fdfdfd"/>
<rect x="542" y="207.7" width="51" height="55.5" fill="url(#scr)"/>
<line x1="544.5" y1="212" x2="591.5" y2="212" stroke="#e8f3ff" stroke-width="3" stroke-dasharray="3.2 0.8" opacity="0.9"/>
<line x1="548" y1="217" x2="587" y2="217" stroke="#b5d3ee" stroke-width="1.3" stroke-dasharray="1.6 0.6" opacity="0.75"/>
<polygon points="549.5,227 578,224.5 584.5,227 584.5,256 578,258 549.5,256.5" fill="#dfe3e8"/>
<polygon points="578,224.5 584.5,227 584.5,256 578,258" fill="#b9c0c8"/>
<g stroke="#a9b1ba" stroke-width="0.5">
<line x1="557" y1="226" x2="557" y2="257"/><line x1="565" y1="225.5" x2="565" y2="257.5"/><line x1="571" y1="225" x2="571" y2="257.5"/>
<line x1="549.5" y1="233" x2="578" y2="232"/><line x1="549.5" y1="240" x2="578" y2="239.5"/><line x1="549.5" y1="247" x2="578" y2="247"/>
</g>
<rect x="565.2" y="233" width="5.5" height="9" fill="#222"/>
<rect x="566" y="234" width="4" height="6.5" fill="#3bb0d8"/>
<rect x="544.2" y="266.8" width="22.6" height="17" fill="url(#org)"/>
<rect x="569.2" y="266.8" width="22.9" height="17" fill="url(#cyn)"/>
<g><circle cx="555.5" cy="271.8" r="1.7" fill="#ffe27a"/><ellipse cx="555.5" cy="276" rx="2.4" ry="2" fill="#ffe27a"/><rect x="552.5" y="280.2" width="6" height="0.8" fill="#ffe9b0"/><circle cx="580.6" cy="271.8" r="1.7" fill="#bff0ff"/><ellipse cx="580.6" cy="276" rx="2.4" ry="2" fill="#bff0ff"/><rect x="577.6" y="280.2" width="6" height="0.8" fill="#d5f5ff"/></g>
<ellipse cx="524.7" cy="251" rx="4.2" ry="4.4" fill="#fff" stroke="#111" stroke-width="0.9"/>
<rect x="523.5" y="247.3" width="2.6" height="7.4" rx="1.2" fill="#000"/>
<path d="M561.5,311.5 Q561.5,309.5 564,309.5 L569.5,309.5 Q571.5,309.5 571.5,311.5 L571.5,323.5 L561.5,323.5 Z" fill="#0d0d0d"/>
<rect x="563.8" y="314.5" width="5.2" height="6.5" rx="0.8" fill="#e8e8e8"/><rect x="565.2" y="316.3" width="2.4" height="3" fill="#111"/>
<circle cx="521" cy="358" r="4.4" fill="#fff" stroke="#222" stroke-width="0.8"/>
<rect x="520" y="354.5" width="2" height="7" rx="1" fill="#000"/>
</g>
</svg>
<div class="t" id="title">RFID tabel identification technology</div>
<div class="t" id="sub1">Real-time statistics and management of items by identifying</div>
<div class="t" id="sub2">RFID tabel bound to items</div>
<div class="t" id="cap1">RFID tabel (with uniqueness)</div>
<div class="t" id="cap2">RFID reader connected</div>
<div class="t" id="cap3">to antenna board</div>
</body></html>
